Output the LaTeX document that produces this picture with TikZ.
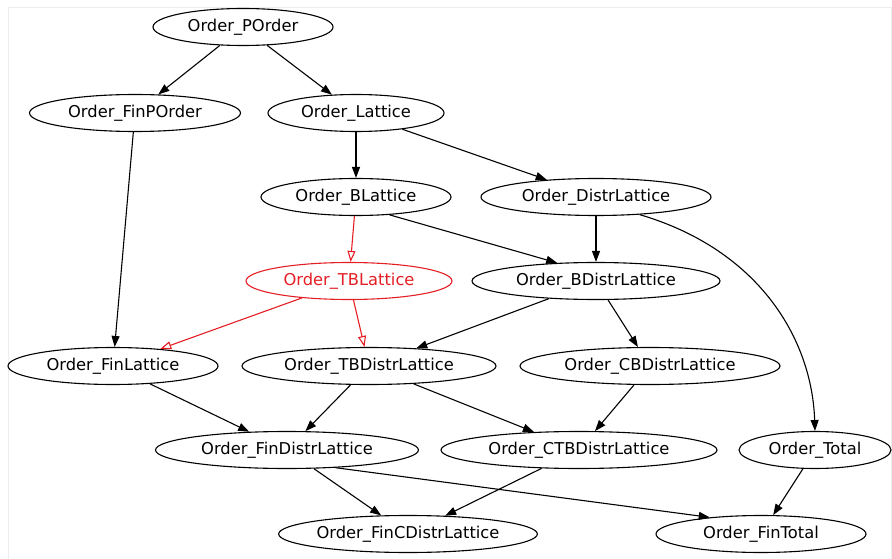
\documentclass[tikz,border=0pt]{standalone}
\usepackage{fontspec}
\setmainfont{DejaVu Sans}
\usetikzlibrary{arrows.meta,shapes.geometric}
\definecolor{edgered}{RGB}{228,30,36}
\tikzset{
  cls/.style={draw, ellipse, line width=1.1pt, inner sep=0pt, minimum height=37pt,
    font=\fontsize{16.3}{19}\selectfont},
  redcls/.style={cls, draw=edgered, text=edgered},
  inh/.style={line width=1.1pt, -{Triangle[length=11pt,width=8pt]}},
  redinh/.style={line width=1.1pt, draw=edgered, -{Triangle[open,length=11pt,width=8pt]}},
}
\begin{document}
\begin{tikzpicture}[x=1pt,y=-1pt]
\useasboundingbox (0,0) rectangle (892,559);
% faint frame around the canvas
\draw[black!7, line width=1pt] (8,559) -- (8,8) -- (891,8) -- (891,559);

% classes
\node[cls, minimum width=180pt] (po)   at (243,27)  {Order\_POrder};
\node[cls, minimum width=211pt] (fpo)  at (135,113) {Order\_FinPOrder};
\node[cls, minimum width=176pt] (lat)  at (356,113) {Order\_Lattice};
\node[cls, minimum width=190pt] (bl)   at (356,197) {Order\_BLattice};
\node[cls, minimum width=230pt] (dl)   at (596,197) {Order\_DistrLattice};
\node[redcls, minimum width=206pt] (tbl) at (349,281) {Order\_TBLattice};
\node[cls, minimum width=248pt] (bdl)  at (596,281) {Order\_BDistrLattice};
\node[cls, minimum width=210pt] (fl)   at (113,366) {Order\_FinLattice};
\node[cls, minimum width=254pt] (tbdl) at (369,366) {Order\_TBDistrLattice};
\node[cls, minimum width=260pt] (cbdl) at (650,366) {Order\_CBDistrLattice};
\node[cls, minimum width=263pt] (fdl)  at (287,450) {Order\_FinDistrLattice};
\node[cls, minimum width=276pt] (ctb)  at (579,450) {Order\_CTBDistrLattice};
\node[cls, minimum width=152pt] (tot)  at (815,450) {Order\_Total};
\node[cls, minimum width=256pt] (fcdl) at (408,534) {Order\_FinCDistrLattice};
\node[cls, minimum width=210pt] (ftot) at (761,534) {Order\_FinTotal};

% inheritance edges
\draw[inh] (po) -- (fpo);
\draw[inh] (po) -- (lat);
\draw[inh] (fpo) -- (fl);
\draw[inh] (lat) -- (bl);
\draw[inh] (lat) -- (dl);
\draw[redinh] (bl) -- (tbl);
\draw[inh] (bl.-28) -- (bdl.155);
\draw[inh] (dl) -- (bdl);
\draw[inh] (dl.-22) .. controls (760,250) and (812,340) .. (tot.north);
\draw[redinh] (tbl) -- (fl);
\draw[redinh] (tbl) -- (tbdl);
\draw[inh] (bdl) -- (tbdl);
\draw[inh] (bdl) -- (cbdl);
\draw[inh] (fl) -- (fdl);
\draw[inh] (tbdl) -- (fdl);
\draw[inh] (tbdl) -- (ctb);
\draw[inh] (cbdl) -- (ctb);
\draw[inh] (fdl) -- (fcdl);
\draw[inh] (fdl.-20) -- (ftot.162);
\draw[inh] (ctb) -- (fcdl);
\draw[inh] (tot) -- (ftot);
\end{tikzpicture}
\end{document}
